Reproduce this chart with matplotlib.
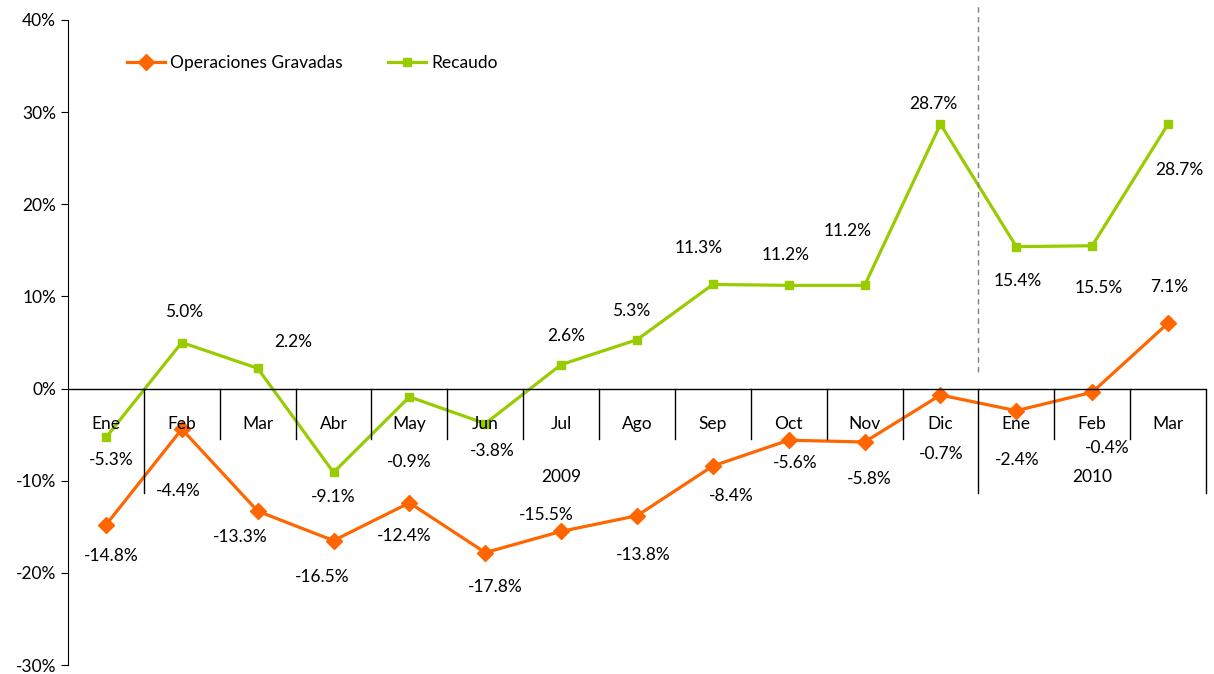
import matplotlib.pyplot as plt

plt.rcParams['font.family'] = ['Lato', 'DejaVu Sans']

meses = ['Ene', 'Feb', 'Mar', 'Abr', 'May', 'Jun', 'Jul', 'Ago', 'Sep', 'Oct', 'Nov', 'Dic',
         'Ene', 'Feb', 'Mar']
operaciones = [-14.8, -4.4, -13.3, -16.5, -12.4, -17.8, -15.5, -13.8, -8.4, -5.6, -5.8, -0.7,
               -2.4, -0.4, 7.1]
recaudo = [-5.3, 5.0, 2.2, -9.1, -0.9, -3.8, 2.6, 5.3, 11.3, 11.2, 11.2, 28.7, 15.4, 15.5, 28.7]
anios = ['2009', '2010']

# label offsets in pixels (dx, dy), screen coords
off_rec = [(5, -23), (2, 31), (36, 26), (0, -25), (0, -65), (7, -27), (5, 29), (-6, 29),
           (-14, 36), (-3, 30), (-17, 54), (-7, 20), (1, -34), (7, -42), (11, -46)]
off_ope = [(5, -31), (-4, -62), (-17, -26), (-11, -36), (-5, -33), (10, -34), (-15, 16),
           (6, -39), (18, -30), (6, -23), (5, -37), (1, -59), (1, -49), (15, -56), (1, 36)]

naranja = '#FF6600'
verde = '#99CC00'

fig = plt.figure(figsize=(12.14, 6.74), dpi=100)
ax = fig.add_axes([68 / 1214, 1 - 665 / 674, 1138 / 1214, 645 / 674])

x = list(range(len(meses)))
ax.plot(x, operaciones, color=naranja, lw=2.3, marker='D', ms=8, label='Operaciones Gravadas')
ax.plot(x, recaudo, color=verde, lw=2.3, marker='s', ms=6, label='Recaudo')

fs = 12.5
for i in x:
    ax.annotate(f'{recaudo[i]:.1f}%', (i, recaudo[i]), xytext=off_rec[i], textcoords='offset pixels',
                ha='center', va='center', fontsize=fs)
    ax.annotate(f'{operaciones[i]:.1f}%', (i, operaciones[i]), xytext=off_ope[i],
                textcoords='offset pixels', ha='center', va='center', fontsize=fs)
    ax.text(i, -3.8, meses[i], ha='center', va='center', fontsize=fs)

ax.text(6, -9.6, anios[0], ha='center', va='center', fontsize=fs)
ax.text(13, -9.6, anios[1], ha='center', va='center', fontsize=fs)

# axis line and category separators
ax.axhline(0, color='black', lw=1)
for b in range(len(meses)):
    bx = b + 0.5
    low = -11.3 if b in (0, 11, 14) else -5.5
    ax.plot([bx, bx], [0, low], color='black', lw=1, clip_on=False)

ax.plot([11.5, 11.5], [1.8, 41.6], color='gray', lw=1, ls=(0, (4, 3)), clip_on=False)

ax.set_xlim(-0.5, 14.5)
ax.set_ylim(-30, 40)
ax.set_yticks(range(-30, 41, 10))
ax.set_yticklabels([f'{v}%' for v in range(-30, 41, 10)], fontsize=fs)
ax.set_xticks([])
for s in ['top', 'right', 'bottom']:
    ax.spines[s].set_visible(False)
ax.tick_params(axis='y', length=5)

ax.legend(loc='upper left', bbox_to_anchor=(0.038, 0.97), ncol=2, frameon=False, fontsize=fs,
          handlelength=2.2, columnspacing=2.6, handletextpad=0.3)

fig.savefig('out.png', dpi=100)
